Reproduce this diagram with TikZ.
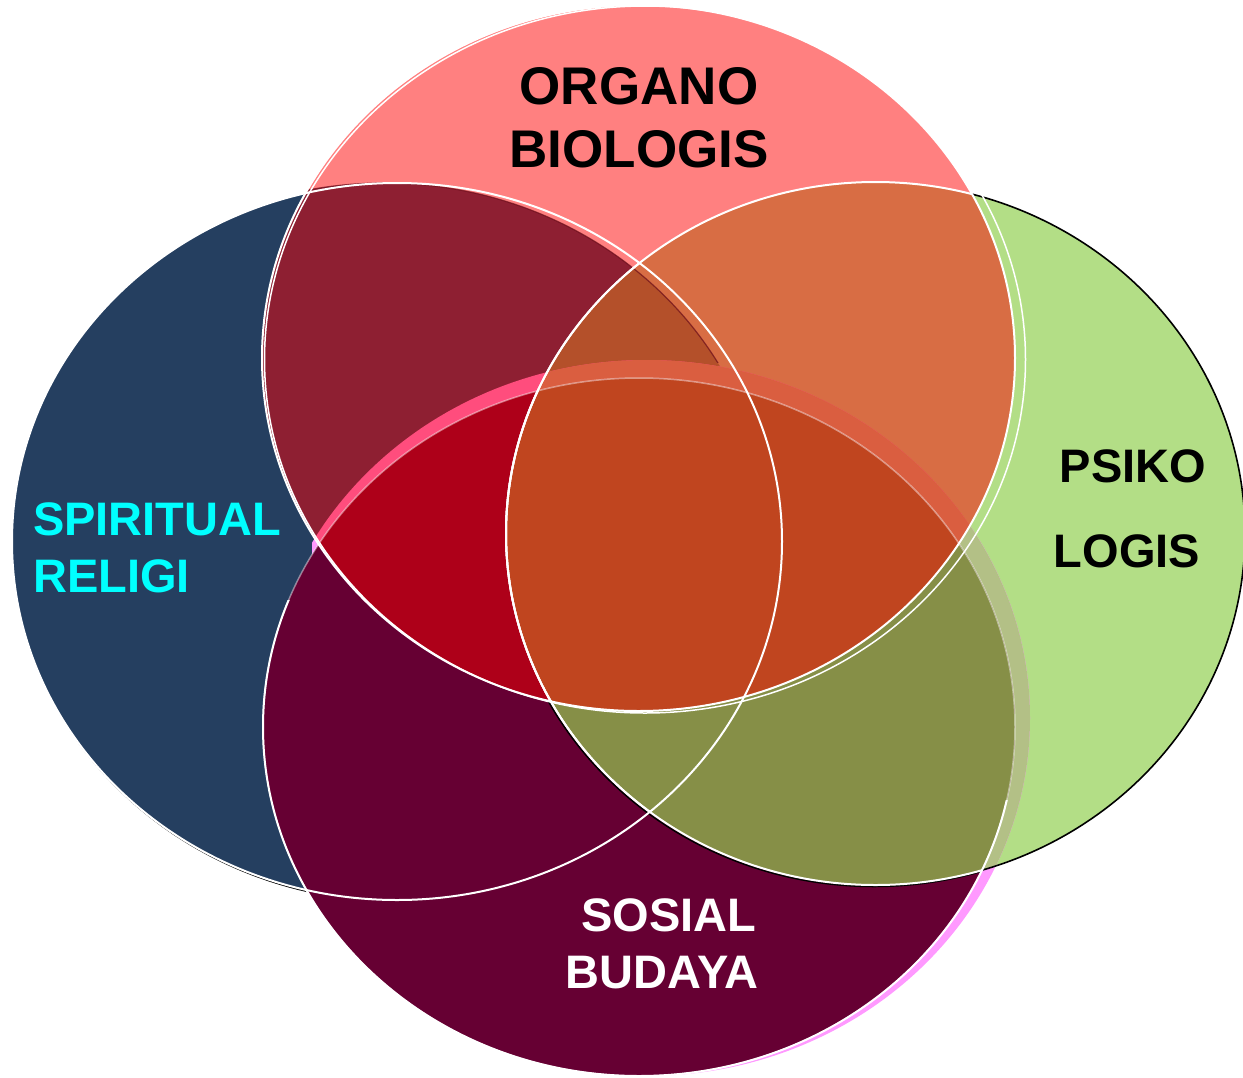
\documentclass[tikz,border=0pt]{standalone}
\usepackage{fontspec}
\setmainfont{Liberation Sans}
\definecolor{cT}{HTML}{FF8080}
\definecolor{cL}{HTML}{253F60}
\definecolor{cR}{HTML}{B3DE86}
\definecolor{cB}{HTML}{660033}
\definecolor{cBR}{HTML}{868F47}
\definecolor{cTL}{HTML}{8E1F32}
\definecolor{cTR}{HTML}{D86D44}
\definecolor{cTLR}{HTML}{B4502A}
\definecolor{cTB}{HTML}{AE0019}
\definecolor{cTBR}{HTML}{C0451F}
\definecolor{cBand}{HTML}{FF99FF}
\definecolor{cBandR}{HTML}{B3C086}
\definecolor{cBandT}{HTML}{FF4D7D}
\definecolor{cBandTR}{HTML}{DA5E40}
\definecolor{cDark}{HTML}{6B0D1A}
\definecolor{cCyan}{HTML}{00FFFF}
\def\ellT{(638.5,358) ellipse [x radius=376.5pt, y radius=353pt]}
\def\ellTc{(645,359.5) ellipse [x radius=380.5pt, y radius=353.5pt]}
\def\ellL{(397,541.5) ellipse [x radius=385pt, y radius=358.5pt]}
\def\ellLs{(384,541.5) ellipse [x radius=385pt, y radius=358.5pt]}
\def\ellLsh{(398.5,543) ellipse [x radius=385pt, y radius=358.5pt]}
\def\ellR{(875.5,533.5) ellipse [x radius=369.5pt, y radius=351.5pt]}
\def\ellRsh{(874,535) ellipse [x radius=369.5pt, y radius=351.5pt]}
\def\ellB{(639,727) ellipse [x radius=376pt, y radius=349pt]}
\def\ellBs{(646.5,718) ellipse [x radius=383.5pt, y radius=358pt]}
\begin{document}
\begin{tikzpicture}[x=1pt,y=-1pt,
  wl/.style={white, line width=2pt},
  big/.style={font=\fontsize{53}{63}\selectfont\bfseries, inner sep=0pt},
  lbl/.style={font=\fontsize{47}{56}\selectfont\bfseries, inner sep=0pt}]
\useasboundingbox (0,0) rectangle (1243,1077);
% base fills
\draw[black, line width=1.5pt] \ellLsh;
\fill[cL] \ellL;
\fill[cR] \ellR;
\begin{scope}\clip (312,0) rectangle (1243,1077); \fill[cBand] \ellBs; \end{scope}
\begin{scope}\clip \ellBs; \fill[cBandR] \ellR; \end{scope}
\draw[black, line width=1.6pt] \ellR;
\fill[cB] \ellB;
\begin{scope}\clip \ellB; \fill[cBR] \ellR; \draw[black, line width=1.5pt] \ellRsh; \end{scope}
% top ellipse
\fill[cT] \ellT;
\begin{scope}\clip \ellT; \fill[cTL] \ellLs; \fill[cTR] \ellR; \clip \ellLs; \fill[cTLR] \ellR; \end{scope}
\begin{scope}\clip \ellT; \clip (0,0) rectangle (1243,362); \draw[cDark, line width=1.2pt, opacity=.7] \ellLs; \end{scope}
\begin{scope}\clip \ellT; \clip \ellBs; \fill[cBandT] \ellBs; \fill[cBandTR] \ellR; \end{scope}
\begin{scope}\clip \ellT; \clip \ellB; \fill[cTB] \ellB; \fill[cTBR] \ellR; \end{scope}
% outlines
\draw[wl] \ellL;
\draw[white, line width=1.5pt] \ellTc;
\draw[wl] \ellT;
\draw[white, opacity=.45, line width=1.5pt] \ellB;
\begin{scope}\clip (0,600) rectangle (600,1077) (0,800) rectangle (1243,1077); \draw[wl] \ellB; \end{scope}
\begin{scope}\clip \ellT; \draw[wl] \ellR; \end{scope}
\begin{scope}\clip \ellL; \draw[wl] \ellR; \end{scope}
\begin{scope}\clip \ellB; \draw[wl] \ellR; \end{scope}
% labels
\node[big, anchor=base] (organo) at (639,104) {ORGANO};
\node[big, anchor=base] (biologis) at (639,167) {BIOLOGIS};
\node[lbl, text=cCyan, anchor=base west] (spiritual) at (33,535) {SPIRITUAL};
\node[lbl, text=cCyan, anchor=base west] (religi) at (33,592) {RELIGI};
\node[lbl, anchor=base] (psiko) at (1133,482) {PSIKO};
\node[lbl, anchor=base] (logis) at (1127,567) {LOGIS};
\node[lbl, text=white, anchor=base] (sosial) at (669,931) {SOSIAL};
\node[lbl, text=white, anchor=base] (budaya) at (662,988) {BUDAYA};
\end{tikzpicture}
\end{document}
